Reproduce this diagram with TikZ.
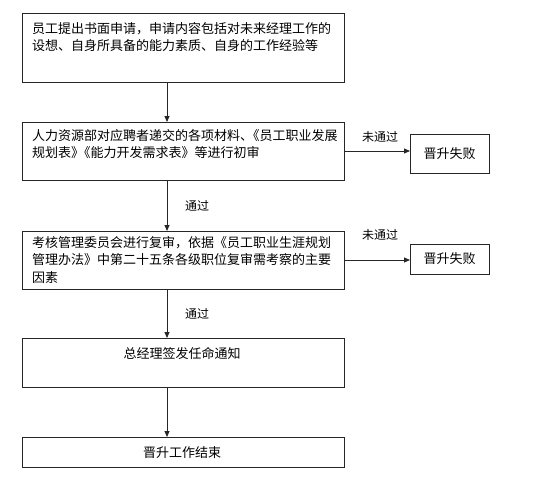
\documentclass[tikz,border=0pt]{standalone}
\usepackage{fontspec}
\setmainfont{Noto Sans CJK SC}
\usetikzlibrary{arrows.meta,calc}
\begin{document}
\begin{tikzpicture}[x=1pt,y=-1pt,
  box/.style={draw=black!85,line width=0.8pt,anchor=north west,inner sep=0,outer sep=0},
  txt/.style={anchor=north west,inner sep=0,align=left,font=\fontsize{13}{17.5}\selectfont},
  ctxt/.style={inner sep=0,font=\fontsize{13}{17.5}\selectfont},
  lbl/.style={inner sep=0,font=\fontsize{12}{14}\selectfont},
  conn/.style={draw=black!85,line width=0.8pt,-{Triangle[length=6pt,width=5pt]}}]
\useasboundingbox (0,0) rectangle (536,493);
% main boxes
\node[box,minimum width=322,minimum height=69] (b1) at (22,13) {};
\node[box,minimum width=322,minimum height=58] (b2) at (22,122) {};
\node[box,minimum width=322,minimum height=58] (b3) at (22,231) {};
\node[box,minimum width=322,minimum height=49] (b4) at (22,338) {};
\node[box,minimum width=322,minimum height=30] (b5) at (22,437) {};
% fail boxes
\node[box,minimum width=79,minimum height=39] (f1) at (410,134) {};
\node[box,minimum width=79,minimum height=30] (f2) at (410,244) {};
% texts
\node[txt] (t1) at (32,22) {员工提出书面申请，申请内容包括对未来经理工作的\\设想、自身所具备的能力素质、自身的工作经验等};
\node[txt] (t2) at (32,129) {人力资源部对应聘者递交的各项材料、\kern-6.5pt《员工职业发展\\规划表》\kern-6.5pt《能力开发需求表》等进行初审};
\node[txt] (t3) at (32,236) {考核管理委员会进行复审，依据《员工职业生涯规划\\管理办法》中第二十五条各级职位复审需考察的主要\\因素};
\node[ctxt] (t4) at (182,353) {总经理签发任命通知};
\node[ctxt] (t5) at (182,453) {晋升工作结束};
\node[ctxt] (tf1) at (f1.center) {晋升失败};
\node[ctxt] (tf2) at (f2.center) {晋升失败};
% connectors
\draw[conn] ([xshift=-16]b1.south) -- ([xshift=-16]b2.north);
\draw[conn] ([xshift=-16]b2.south) -- ([xshift=-16]b3.north) node[lbl,pos=0.5,xshift=30] (l1) {通过};
\draw[conn] ([xshift=-16]b3.south) -- ([xshift=-16]b4.north) node[lbl,pos=0.5,xshift=30] (l2) {通过};
\draw[conn] ([xshift=-16]b4.south) -- ([xshift=-16]b5.north);
\draw[conn] (b2.east) -- (b2.east -| f1.west);
\draw[conn] (b3.east) -- (b3.east -| f2.west);
\node[lbl] (n1) at (380,137) {未通过};
\node[lbl] (n2) at (380,235) {未通过};
\end{tikzpicture}
\end{document}
